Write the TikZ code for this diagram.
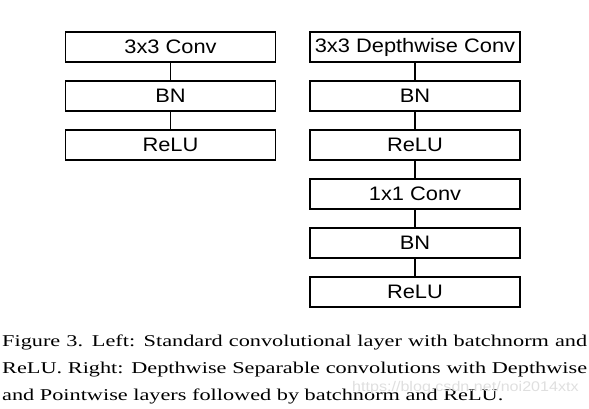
\documentclass[tikz,border=0pt]{standalone}
\usepackage{fontspec}
\setmainfont{Liberation Serif}
\setsansfont{Liberation Sans}
\usetikzlibrary{positioning}

\newcommand{\wide}[2]{\scalebox{#1}[1]{#2}}

\begin{document}
\begin{tikzpicture}[x=1pt, y=1pt, node distance=18.6pt,
	layer/.style={draw, line width=1.6pt, outer sep=0pt, inner sep=0pt, minimum width=210pt, minimum height=30.4pt, font=\sffamily\fontsize{19.5}{19.5}\selectfont},
	link/.style={line width=1.4pt},
	capline/.style={anchor=base west, inner sep=0pt, font=\fontsize{16.5}{16.5}\selectfont}]
	\useasboundingbox (0,0) rectangle (589,-408);
	% left: standard conv
	\node[layer] (conv) at (170.5,-47) {\wide{1.12}{3x3 Conv}};
	\node[layer, below=of conv] (bnl) {\wide{1.12}{BN}};
	\node[layer, below=of bnl] (relul) {\wide{1.12}{ReLU}};
	\draw[link] (conv) -- (bnl);
	\draw[link] (bnl) -- (relul);
	% right: depthwise separable
	\node[layer] (dw) at (415,-47) {\wide{1.12}{3x3 Depthwise Conv}};
	\node[layer, below=of dw] (bna) {\wide{1.12}{BN}};
	\node[layer, below=of bna] (relua) {\wide{1.12}{ReLU}};
	\node[layer, below=of relua] (pw) {\wide{1.12}{1x1 Conv}};
	\node[layer, below=of pw] (bnb) {\wide{1.12}{BN}};
	\node[layer, below=of bnb] (relub) {\wide{1.12}{ReLU}};
	\foreach \a/\b in {dw/bna, bna/relua, relua/pw, pw/bnb, bnb/relub}
		\draw[link] (\a) -- (\b);
	% caption
	\node[capline] (cap1) at (2,-346) {\wide{1.35}{\makebox[433.3pt][s]{Figure 3. Left: Standard convolutional layer with batchnorm and}}};
	\node[capline] (cap2) at (2,-373) {\wide{1.35}{\makebox[433.3pt][s]{ReLU. Right: Depthwise Separable convolutions with Depthwise}}};
	\node[capline] (cap3) at (2,-400) {\wide{1.35}{and Pointwise layers followed by batchnorm and ReLU.}};
	\node[anchor=base west, inner sep=0pt, text=gray!25, font=\sffamily\fontsize{14}{14}\selectfont] (mark) at (352,-391) {\wide{1.15}{https://blog.csdn.net/noi2014xtx}};
\end{tikzpicture}
\end{document}
